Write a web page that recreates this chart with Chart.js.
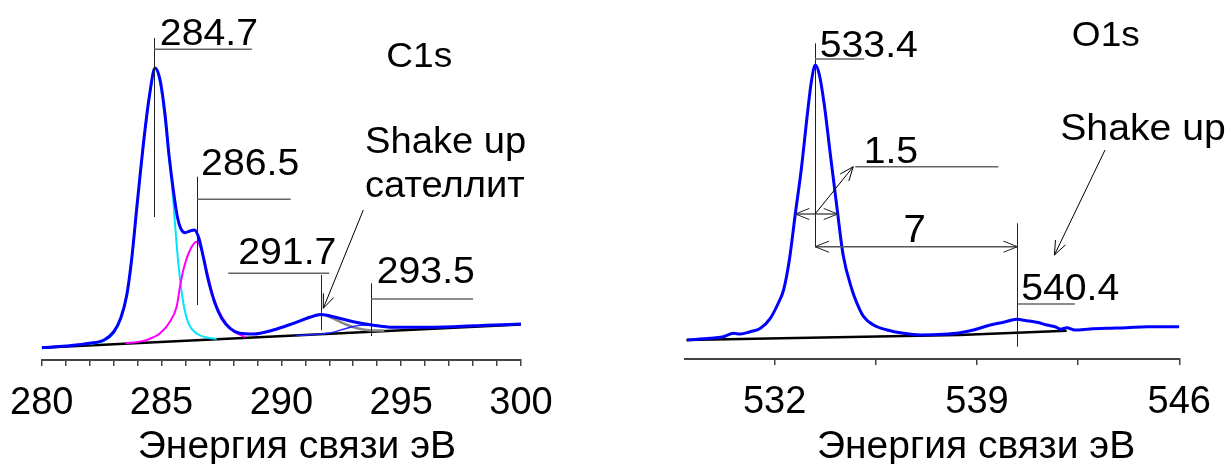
<!DOCTYPE html>
<html>
<head>
<meta charset="utf-8">
<script src="https://cdn.jsdelivr.net/npm/chart.js@4"></script>
<style>
  body { margin: 0; background: #fff; width: 1232px; height: 464px; overflow: hidden; position: relative; }
  canvas { position: absolute; top: 0; }
  #c1s { left: 0; }
  #o1s { left: 600px; }
</style>
</head>
<body>
<canvas id="c1s" width="600" height="464"></canvas>
<canvas id="o1s" width="632" height="464"></canvas>
<script>
// --- C1s data (binding energy eV, intensity a.u.) ---
const c1sTickLabels = [280, 285, 290, 295, 300];
const c1sPeaks = ["284.7", "286.5", "291.7", "293.5"];

const c1sEnvelope = [[280.0,12.3],[281.0,14],[282.0,16.7],[282.6,20],[283.0,28],[283.3,42],[283.55,65],[283.75,100],
  [284.0,160],[284.3,228],[284.5,265],[284.73,292],[284.94,280],[285.14,246.7],[285.32,203.3],[285.49,170],
  [285.66,143.3],[285.8,131.7],[285.98,127.3],[286.19,129],[286.37,130],[286.56,121.7],[286.74,103.3],[286.95,80],
  [287.23,56.7],[287.51,41.7],[287.86,31.7],[288.27,26.7],[288.83,26],[289.66,30],[290.5,36.7],[291.19,42.7],
  [291.65,45.5],[292.17,43.3],[293.0,38.3],[293.77,35],[294.67,32.7],[295.78,32.7],[297.17,33.3],[298.57,34.7],[300.0,36]];
const c1sMain = [[282.0,15.8],[282.6,19.2],[283.0,27],[283.3,41],[283.55,64],[283.75,99],[284.0,159],[284.3,227],
  [284.5,264],[284.73,291],[284.94,277],[285.14,242],[285.3,205],[285.42,180],[285.56,137],[285.7,97],[285.91,57],
  [286.12,37],[286.47,26.5],[286.88,22.5],[287.3,21.3]];
const c1sShoulder = [[283.5,16.8],[284.0,18],[284.38,20],[284.94,26.7],[285.35,38.3],[285.63,53.3],[285.77,73.3],
  [285.91,90],[286.19,110],[286.47,118.3],[286.67,110],[286.88,90],[287.16,63.3],[287.51,43.3],[287.99,29],
  [288.5,23]];
const c1sSatellite = [[290.5,36.5],[291.2,42.5],[291.65,45.5],[292.17,41.5],[292.7,35.5],[293.2,31.5],[293.75,29.6],[294.3,29.4]];
const c1sSatellite2 = [[290.6,24.5],[291.4,25.5],[292.0,27],[292.7,31.5],[293.3,34.8],[293.8,35],[294.5,33]];
const c1sBackground = [[280,12.3],[300,35.5]];

// --- O1s data ---
const o1sTicks = [532, 535.5, 539, 542.5, 546];
const o1sTickLabels = ["532", "", "539", "", "546"];
const o1sPeaks = ["533.4", "540.4"];

const o1sEnvelope = [[528.97,19],[529.78,20.7],[530.19,22],[530.58,25.7],[530.81,25],[531.16,27.3],[531.51,30.7],
  [531.85,40.7],[532.13,56],[532.31,69],[532.51,99],[532.72,146],[532.92,189],[533.13,244],[533.27,277],[533.41,294],
  [533.55,284],[533.72,254],[533.93,204],[534.18,146],[534.37,104],[534.68,69],[534.85,55.7],[535.08,42.3],
  [535.42,34],[535.89,29],[536.46,25.7],[537.04,24],[537.84,24.7],[538.42,26.3],[538.88,29],[539.46,34],
  [539.92,36.7],[540.38,39.7],[540.72,38.3],[541.07,36.7],[541.42,34],[541.76,31.7],[541.88,29.7],[542.11,31.3],
  [542.39,29],[542.91,30],[543.49,30.7],[544.18,31.3],[544.87,32.3],[545.56,32.3],[546.0,32.3]];
const o1sBackground = [[528.95,19],[538.4,24],[542.1,28.3]];

const FONT = "'Liberation Sans', Arial, sans-serif";

function pts(arr) {
  return arr.map(p => ({ x: p[0], y: p[1] }));
}

function line(data, color, width, tension) {
  return {
    data: pts(data),
    borderColor: color,
    borderWidth: width,
    pointRadius: 0,
    fill: false,
    tension: tension,
    cubicInterpolationMode: tension ? "monotone" : "default",
  };
}

// annotations: leader lines, labels and arrows, placed in data units
function marksPlugin(m) {
  function head(ctx, x0, y0, x1, y1) {
    const a = Math.atan2(y1 - y0, x1 - x0);
    const len = 15, sp = 0.38;
    ctx.beginPath();
    ctx.moveTo(x1 - len * Math.cos(a - sp), y1 - len * Math.sin(a - sp));
    ctx.lineTo(x1, y1);
    ctx.lineTo(x1 - len * Math.cos(a + sp), y1 - len * Math.sin(a + sp));
    ctx.stroke();
  }
  return {
    id: "marks",
    afterDatasetsDraw(chart) {
      const ctx = chart.ctx;
      const X = v => chart.scales.x.getPixelForValue(v);
      const Y = v => chart.scales.y.getPixelForValue(v);
      ctx.save();
      ctx.lineCap = "butt";
      // vertical markers
      ctx.strokeStyle = "#222";
      ctx.lineWidth = 1;
      m.vlines.forEach(([x, y1, y2]) => {
        ctx.beginPath();
        ctx.moveTo(Math.round(X(x)) + 0.5, Y(y1));
        ctx.lineTo(Math.round(X(x)) + 0.5, Y(y2));
        ctx.stroke();
      });
      // underlines
      ctx.strokeStyle = "#666";
      ctx.lineWidth = 1.5;
      m.hlines.forEach(([y, x1, x2]) => {
        ctx.beginPath();
        ctx.moveTo(X(x1), Y(y));
        ctx.lineTo(X(x2), Y(y));
        ctx.stroke();
      });
      // double arrows
      (m.spans || []).forEach(([y, x1, x2]) => {
        ctx.strokeStyle = "#555";
        ctx.lineWidth = 1.5;
        ctx.beginPath();
        ctx.moveTo(X(x1), Y(y));
        ctx.lineTo(X(x2), Y(y));
        ctx.stroke();
        ctx.strokeStyle = "#222";
        ctx.lineWidth = 1;
        head(ctx, X(x2), Y(y), X(x1), Y(y));
        head(ctx, X(x1), Y(y), X(x2), Y(y));
      });
      // single arrows
      ctx.strokeStyle = "#000";
      ctx.lineWidth = 1;
      m.arrows.forEach(([x0, y0, x1, y1]) => {
        ctx.beginPath();
        ctx.moveTo(X(x0), Y(y0));
        ctx.lineTo(X(x1), Y(y1));
        ctx.stroke();
        head(ctx, X(x0), Y(y0), X(x1), Y(y1));
      });
      // texts (the source lettering is a little wider than Liberation Sans)
      ctx.fillStyle = "#000";
      ctx.textAlign = "left";
      ctx.textBaseline = "alphabetic";
      m.texts.forEach(([t, x, y, size]) => {
        ctx.save();
        ctx.font = size + "px " + FONT;
        ctx.translate(X(x), Y(y));
        ctx.scale(1.06, 1);
        ctx.fillText(t, 0, 0);
        ctx.restore();
      });
      // axis title
      ctx.font = "39px " + FONT;
      ctx.textAlign = "center";
      ctx.fillText(m.title, X(m.titleX), 458);
      ctx.restore();
    },
  };
}

function spectrumChart(id, datasets, xScale, yMax, pad, axisH, marks) {
  return new Chart(document.getElementById(id), {
    type: "line",
    data: { datasets: datasets },
    options: {
      responsive: false,
      animation: false,
      events: [],
      layout: { padding: { left: pad[0], right: pad[1], top: 0, bottom: 0 } },
      plugins: { legend: { display: false }, tooltip: { enabled: false } },
      scales: {
        x: Object.assign({
          type: "linear",
          border: { display: true, color: "#444", width: 2 },
          grid: { drawOnChartArea: false, drawTicks: true, tickLength: 6, color: "#444", lineWidth: 1.5 },
          afterFit: s => { s.height = axisH; },
        }, xScale),
        y: { display: false, min: 0, max: yMax },
      },
    },
    plugins: [marksPlugin(marks)],
  });
}

// tall line box keeps the labels low without widening the side padding
const tickFont = { family: FONT, size: 38, lineHeight: 1.5 };

spectrumChart("c1s", [
  line(c1sEnvelope, "#0000ff", 3, 0.4),
  line(c1sSatellite2, "#2222ff", 1.5, 0.4),
  line(c1sSatellite, "#888888", 2.5, 0.4),
  line(c1sShoulder, "#ff00ff", 2, 0.4),
  line(c1sMain, "#00e5ff", 2, 0.4),
  line(c1sBackground, "#000000", 2.5, 0),
], {
  min: 280, max: 300,
  ticks: {
    stepSize: 1, autoSkip: false, maxRotation: 0, padding: 9, color: "#000", font: tickFont,
    callback: v => c1sTickLabels.includes(v) ? String(v) : "",
  },
}, 360, [41.7, 79], 104, {
  vlines: [[284.7, 322, 143], [286.5, 183.3, 55], [291.65, 85, 30], [293.75, 76.7, 24]],
  hlines: [[310.7, 284.7, 288.77], [160.7, 286.5, 290.39], [86.7, 287.78, 292.0], [61, 293.75, 298.0]],
  arrows: [[293.42, 150, 291.75, 51.7]],
  texts: [
    [c1sPeaks[0], 284.93, 315, 37], [c1sPeaks[1], 286.65, 185, 37],
    [c1sPeaks[2], 288.2, 96, 37], [c1sPeaks[3], 293.98, 76.7, 37],
    ["C1s", 294.38, 293.3, 35], ["Shake up", 293.49, 206.7, 36], ["сателлит", 293.49, 163.3, 36],
  ],
  title: "Энергия связи эВ", titleX: 290.65,
});

spectrumChart("o1s", [
  line(o1sEnvelope, "#0000ff", 3, 0.15),
  line(o1sBackground, "#000000", 2.5, 0),
], {
  min: 528.9, max: 546,
  afterBuildTicks: s => { s.ticks = o1sTicks.map(v => ({ value: v })); },
  ticks: {
    autoSkip: false, maxRotation: 0, padding: 9, color: "#000", font: tickFont,
    callback: v => o1sTickLabels[o1sTicks.indexOf(v)],
  },
}, 359, [85, 52.7], 105, {
  vlines: [[533.4, 315.7, 112.3], [540.4, 135.7, 12.3]],
  hlines: [[300, 533.4, 535.1], [192.3, 534.79, 539.74], [55, 540.4, 542.39]],
  spans: [[145, 532.72, 534.18], [112.3, 533.4, 540.4]],
  arrows: [[533.4, 145, 534.72, 192.3], [543.43, 209, 541.68, 104]],
  texts: [
    [o1sPeaks[0], 533.56, 302.3, 37], [o1sPeaks[1], 540.53, 59, 37],
    ["1.5", 535.08, 195.7, 37], ["7", 536.46, 117.3, 38],
    ["O1s", 542.28, 313.3, 35], ["Shake up", 541.88, 219, 37],
  ],
  title: "Энергия связи эВ", titleX: 538.97,
});
</script>
</body>
</html>
